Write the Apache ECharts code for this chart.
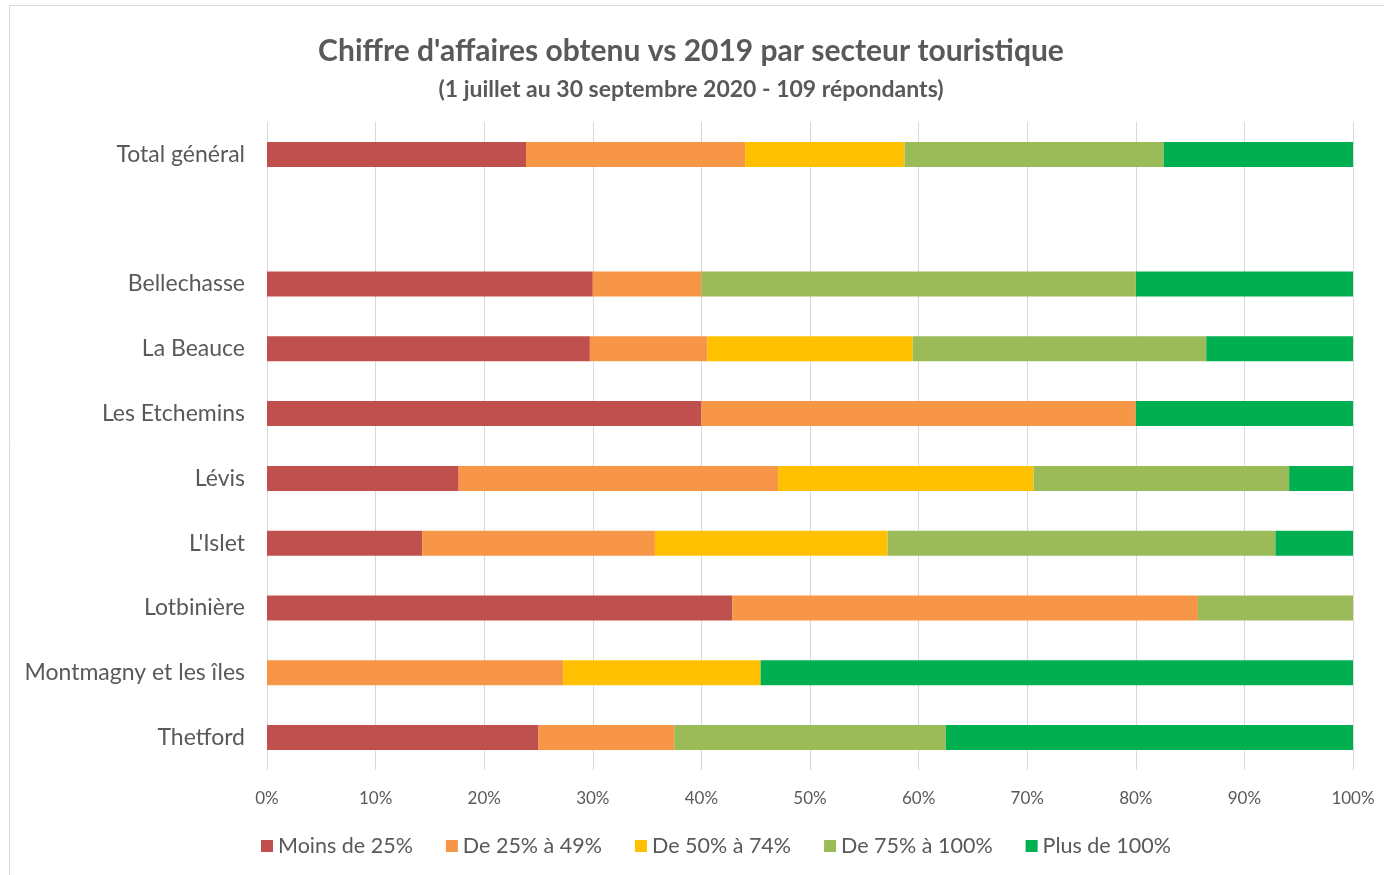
<!DOCTYPE html>
<html><head><meta charset="utf-8">
<script src="https://cdn.jsdelivr.net/npm/echarts@6/dist/echarts.min.js"></script>
<style>html,body{margin:0;padding:0;background:#fff}#c{width:1384px;height:875px}</style>
</head><body><div id="c"></div>
<script>
const categories = ['Total général', '', 'Bellechasse', 'La Beauce', 'Les Etchemins', 'Lévis', "L'Islet", 'Lotbinière', 'Montmagny et les îles', 'Thetford'];
const seriesNames = ['Moins de 25%', 'De 25% à 49%', 'De 50% à 74%', 'De 75% à 100%', 'Plus de 100%'];
const moins25   = [23.85, null, 30, 29.73, 40, 17.65, 14.29, 42.86, 0, 25];
const de25a49   = [20.18, null, 10, 10.81, 40, 29.41, 21.43, 42.86, 27.27, 12.5];
const de50a74   = [14.68, null, 0, 18.92, 0, 23.53, 21.43, 0, 18.18, 0];
const de75a100  = [23.85, null, 40, 27.03, 0, 23.53, 35.71, 14.28, 0, 25];
const plus100   = [17.44, null, 20, 13.51, 20, 5.88, 7.14, 0, 54.55, 37.5];
const xTicks = ['0%','10%','20%','30%','40%','50%','60%','70%','80%','90%','100%'];
const colors = ['#C0504D', '#F79646', '#FFC000', '#9BBB59', '#00B050'];
const values = [moins25, de25a49, de50a74, de75a100, plus100];
const FONT = 'Lato';

const chart = echarts.init(document.getElementById('c'));
chart.setOption({
  animation: false,
  color: colors,
  textStyle: { fontFamily: FONT },
  graphic: [{ type: 'rect', shape: { x: 9.5, y: 5.5, width: 1380, height: 872 }, style: { fill: 'none', stroke: '#d9d9d9', lineWidth: 1 } }],
  title: [{
    text: "Chiffre d'affaires obtenu vs 2019 par secteur touristique",
    left: 686, top: 31, textAlign: 'center',
    textStyle: { fontFamily: FONT, fontSize: 30, fontWeight: 'bold', color: '#595959' }
  }, {
    text: '(1 juillet au 30 septembre 2020 - 109 répondants)',
    left: 686, top: 73, textAlign: 'center',
    textStyle: { fontFamily: FONT, fontSize: 23, fontWeight: 'bold', color: '#595959' }
  }],
  legend: {
    bottom: 13, left: 256, itemWidth: 12, itemHeight: 12, itemGap: 33, icon: 'rect',
    textStyle: { fontFamily: FONT, fontSize: 21.5, color: '#595959' },
    data: seriesNames
  },
  grid: { left: 267, right: 31, top: 122, bottom: 105, containLabel: false },
  xAxis: {
    type: 'value', min: 0, max: 100, interval: 10,
    axisLine: { show: false }, axisTick: { show: false },
    splitLine: { show: true, lineStyle: { color: '#d9d9d9', width: 1 } },
    axisLabel: { formatter: v => xTicks[Math.round(v / 10)], fontSize: 17, color: '#595959', margin: 20, fontFamily: FONT }
  },
  yAxis: {
    type: 'category', inverse: true, data: categories,
    axisLine: { show: false }, axisTick: { show: false },
    axisLabel: { fontSize: 23, color: '#595959', margin: 22, fontFamily: FONT }
  },
  series: seriesNames.map((n, i) => ({
    name: n, type: 'bar', stack: 'tot', barWidth: 25,
    data: values[i],
    itemStyle: { color: colors[i] }
  }))
});
</script></body></html>
